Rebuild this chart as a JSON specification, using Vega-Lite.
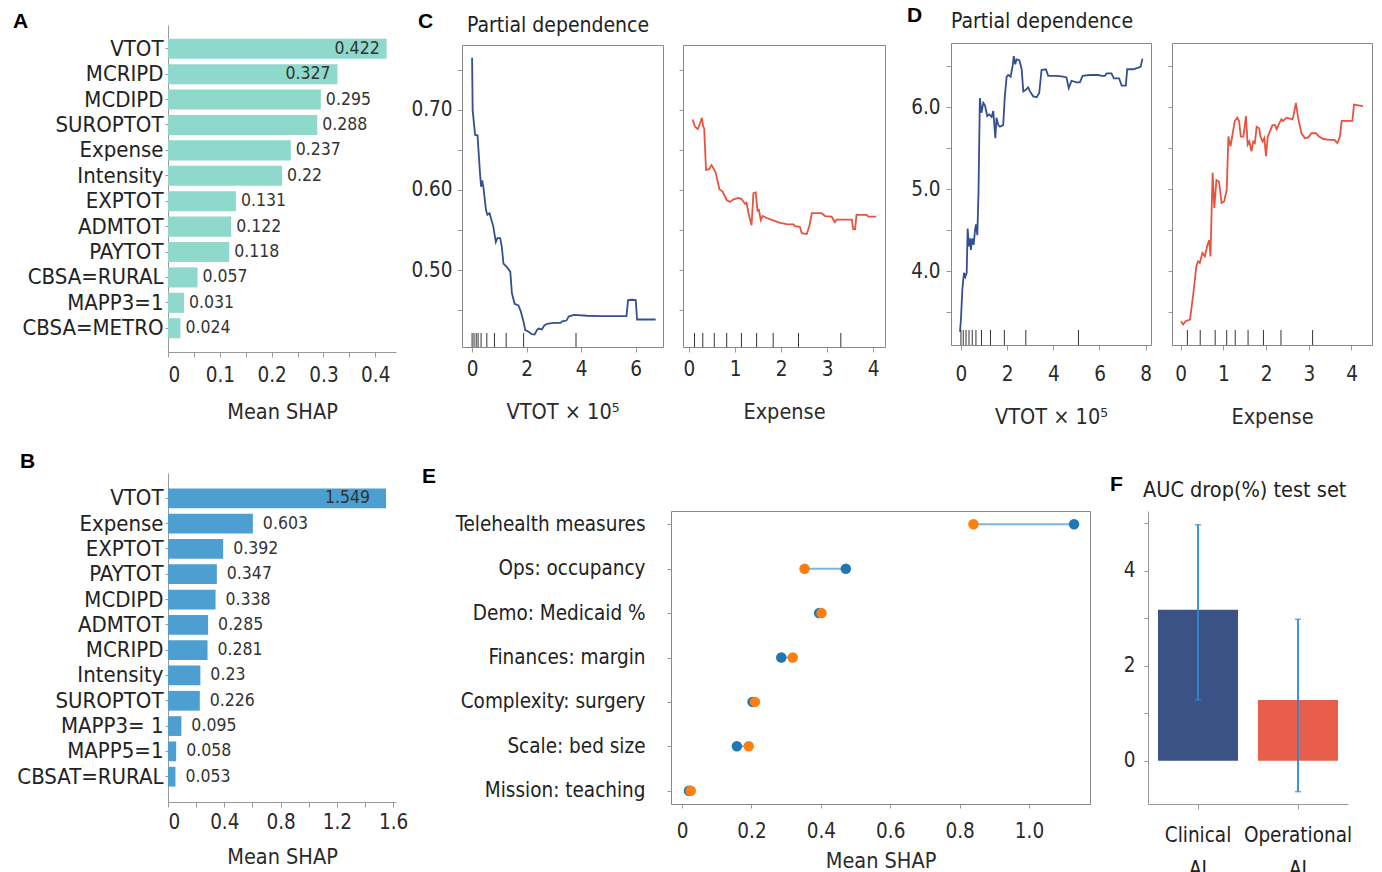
{
  "$schema": "https://vega.github.io/schema/vega-lite/v6.json",
  "autosize": {"type": "none"},
  "padding": {"left": 168, "top": 25, "right": 1214, "bottom": 847},
  "background": "white",
  "config": {
    "font": "DejaVu Sans Condensed, DejaVu Sans, sans-serif",
    "view": {"stroke": null},
    "axis": {"labelColor": "#2a2a2a", "titleColor": "#2a2a2a", "titleFontWeight": "normal", "domainColor": "#999", "tickColor": "#999", "grid": false, "labelFontSize": 20.5, "titleFontSize": 21.5, "labelLimit": 400},
    "title": {"color": "#222", "fontWeight": "normal", "anchor": "start", "frame": "group"}
  },
  "datasets": {
    "shapA": [
      {"feature": "VTOT", "shap": 0.422}, {"feature": "MCRIPD", "shap": 0.327}, {"feature": "MCDIPD", "shap": 0.295},
      {"feature": "SUROPTOT", "shap": 0.288}, {"feature": "Expense", "shap": 0.237}, {"feature": "Intensity", "shap": 0.22},
      {"feature": "EXPTOT", "shap": 0.131}, {"feature": "ADMTOT", "shap": 0.122}, {"feature": "PAYTOT", "shap": 0.118},
      {"feature": "CBSA=RURAL", "shap": 0.057}, {"feature": "MAPP3=1", "shap": 0.031}, {"feature": "CBSA=METRO", "shap": 0.024}
    ],
    "shapB": [
      {"feature": "VTOT", "shap": 1.549}, {"feature": "Expense", "shap": 0.603}, {"feature": "EXPTOT", "shap": 0.392},
      {"feature": "PAYTOT", "shap": 0.347}, {"feature": "MCDIPD", "shap": 0.338}, {"feature": "ADMTOT", "shap": 0.285},
      {"feature": "MCRIPD", "shap": 0.281}, {"feature": "Intensity", "shap": 0.23}, {"feature": "SUROPTOT", "shap": 0.226},
      {"feature": "MAPP3= 1", "shap": 0.095}, {"feature": "MAPP5=1", "shap": 0.058}, {"feature": "CBSAT=RURAL", "shap": 0.053}
    ],
    "pdC1": [
      {"x":0,"y":0.765},{"x":0.02,"y":0.70},{"x":0.11,"y":0.669},{"x":0.20,"y":0.668},{"x":0.29,"y":0.621},{"x":0.33,"y":0.604},{"x":0.37,"y":0.612},{"x":0.42,"y":0.602},{"x":0.51,"y":0.575},{"x":0.56,"y":0.569},{"x":0.64,"y":0.571},{"x":0.69,"y":0.565},{"x":0.78,"y":0.554},{"x":0.87,"y":0.535},{"x":0.93,"y":0.540},{"x":1.03,"y":0.540},{"x":1.09,"y":0.529},{"x":1.15,"y":0.508},{"x":1.27,"y":0.504},{"x":1.40,"y":0.498},{"x":1.46,"y":0.471},{"x":1.56,"y":0.458},{"x":1.70,"y":0.456},{"x":1.79,"y":0.448},{"x":1.89,"y":0.435},{"x":1.95,"y":0.425},{"x":2.07,"y":0.423},{"x":2.19,"y":0.420},{"x":2.29,"y":0.4196},{"x":2.38,"y":0.425},{"x":2.44,"y":0.427},{"x":2.56,"y":0.426},{"x":2.65,"y":0.431},{"x":2.75,"y":0.433},{"x":2.99,"y":0.434},{"x":3.24,"y":0.434},{"x":3.30,"y":0.436},{"x":3.46,"y":0.437},{"x":3.54,"y":0.442},{"x":3.73,"y":0.444},{"x":4.22,"y":0.443},{"x":4.71,"y":0.4425},{"x":5.20,"y":0.4425},{"x":5.66,"y":0.4425},{"x":5.72,"y":0.4625},{"x":5.87,"y":0.463},{"x":6.00,"y":0.4625},{"x":6.05,"y":0.4383},{"x":6.42,"y":0.4383},{"x":6.73,"y":0.4383}
    ],
    "pdC2": [
      {"x":0.08,"y":0.688},{"x":0.13,"y":0.679},{"x":0.19,"y":0.676},{"x":0.24,"y":0.683},{"x":0.28,"y":0.690},{"x":0.31,"y":0.679},{"x":0.33,"y":0.677},{"x":0.37,"y":0.625},{"x":0.44,"y":0.626},{"x":0.49,"y":0.631},{"x":0.57,"y":0.623},{"x":0.60,"y":0.617},{"x":0.66,"y":0.601},{"x":0.73,"y":0.598},{"x":0.82,"y":0.5875},{"x":0.89,"y":0.585},{"x":0.96,"y":0.588},{"x":1.07,"y":0.590},{"x":1.14,"y":0.589},{"x":1.22,"y":0.5825},{"x":1.25,"y":0.584},{"x":1.31,"y":0.567},{"x":1.36,"y":0.556},{"x":1.40,"y":0.596},{"x":1.45,"y":0.597},{"x":1.49,"y":0.574},{"x":1.52,"y":0.575},{"x":1.56,"y":0.5625},{"x":1.60,"y":0.5675},{"x":1.69,"y":0.565},{"x":1.83,"y":0.562},{"x":1.98,"y":0.559},{"x":2.12,"y":0.5575},{"x":2.27,"y":0.557},{"x":2.30,"y":0.555},{"x":2.41,"y":0.554},{"x":2.45,"y":0.546},{"x":2.56,"y":0.545},{"x":2.62,"y":0.556},{"x":2.67,"y":0.571},{"x":2.88,"y":0.571},{"x":2.96,"y":0.5675},{"x":3.10,"y":0.5667},{"x":3.17,"y":0.560},{"x":3.21,"y":0.563},{"x":3.54,"y":0.563},{"x":3.57,"y":0.551},{"x":3.61,"y":0.551},{"x":3.64,"y":0.569},{"x":3.86,"y":0.569},{"x":3.90,"y":0.5667},{"x":4.07,"y":0.5667}
    ],
    "pdD1": [
      {"x":-0.04,"y":3.26},{"x":0,"y":3.41},{"x":0.06,"y":3.77},{"x":0.13,"y":3.98},{"x":0.19,"y":3.93},{"x":0.25,"y":3.98},{"x":0.29,"y":4.52},{"x":0.35,"y":4.30},{"x":0.39,"y":4.40},{"x":0.43,"y":4.26},{"x":0.49,"y":4.40},{"x":0.55,"y":4.32},{"x":0.61,"y":4.50},{"x":0.65,"y":4.57},{"x":0.71,"y":4.44},{"x":0.76,"y":4.95},{"x":0.82,"y":6.11},{"x":0.89,"y":5.93},{"x":0.97,"y":6.05},{"x":1.04,"y":6.02},{"x":1.14,"y":5.89},{"x":1.23,"y":5.91},{"x":1.33,"y":5.88},{"x":1.40,"y":5.95},{"x":1.49,"y":5.62},{"x":1.54,"y":5.87},{"x":1.62,"y":5.78},{"x":1.69,"y":5.76},{"x":1.83,"y":5.78},{"x":1.90,"y":6.13},{"x":1.98,"y":6.37},{"x":2.05,"y":6.39},{"x":2.15,"y":6.37},{"x":2.24,"y":6.50},{"x":2.29,"y":6.62},{"x":2.35,"y":6.52},{"x":2.41,"y":6.58},{"x":2.53,"y":6.57},{"x":2.63,"y":6.46},{"x":2.70,"y":6.19},{"x":2.81,"y":6.21},{"x":2.91,"y":6.24},{"x":2.99,"y":6.19},{"x":3.13,"y":6.13},{"x":3.28,"y":6.12},{"x":3.39,"y":6.17},{"x":3.49,"y":6.45},{"x":3.68,"y":6.46},{"x":3.78,"y":6.38},{"x":4.14,"y":6.38},{"x":4.43,"y":6.37},{"x":4.57,"y":6.36},{"x":4.67,"y":6.23},{"x":4.79,"y":6.32},{"x":5.01,"y":6.30},{"x":5.15,"y":6.30},{"x":5.27,"y":6.38},{"x":5.58,"y":6.39},{"x":5.95,"y":6.39},{"x":6.09,"y":6.38},{"x":6.23,"y":6.38},{"x":6.31,"y":6.41},{"x":6.52,"y":6.41},{"x":6.62,"y":6.35},{"x":6.85,"y":6.35},{"x":6.96,"y":6.26},{"x":7.14,"y":6.26},{"x":7.20,"y":6.46},{"x":7.46,"y":6.46},{"x":7.68,"y":6.48},{"x":7.78,"y":6.49},{"x":7.86,"y":6.59}
    ],
    "pdD2": [
      {"x":0.01,"y":3.39},{"x":0.06,"y":3.35},{"x":0.12,"y":3.39},{"x":0.22,"y":3.41},{"x":0.30,"y":3.73},{"x":0.37,"y":4.06},{"x":0.41,"y":4.12},{"x":0.45,"y":4.10},{"x":0.51,"y":4.22},{"x":0.57,"y":4.18},{"x":0.62,"y":4.30},{"x":0.67,"y":4.38},{"x":0.70,"y":4.18},{"x":0.75,"y":5.20},{"x":0.79,"y":4.77},{"x":0.84,"y":5.11},{"x":0.90,"y":5.09},{"x":0.96,"y":4.83},{"x":1.02,"y":4.85},{"x":1.08,"y":4.99},{"x":1.12,"y":5.64},{"x":1.17,"y":5.52},{"x":1.22,"y":5.68},{"x":1.27,"y":5.83},{"x":1.33,"y":5.87},{"x":1.37,"y":5.83},{"x":1.41,"y":5.64},{"x":1.47,"y":5.64},{"x":1.53,"y":5.89},{"x":1.57,"y":5.54},{"x":1.61,"y":5.58},{"x":1.66,"y":5.46},{"x":1.70,"y":5.58},{"x":1.74,"y":5.56},{"x":1.78,"y":5.76},{"x":1.84,"y":5.74},{"x":1.87,"y":5.64},{"x":1.92,"y":5.58},{"x":1.96,"y":5.62},{"x":2.00,"y":5.40},{"x":2.04,"y":5.64},{"x":2.09,"y":5.70},{"x":2.15,"y":5.78},{"x":2.21,"y":5.78},{"x":2.25,"y":5.73},{"x":2.31,"y":5.80},{"x":2.36,"y":5.85},{"x":2.40,"y":5.83},{"x":2.48,"y":5.87},{"x":2.62,"y":5.85},{"x":2.65,"y":5.91},{"x":2.70,"y":6.05},{"x":2.75,"y":5.87},{"x":2.83,"y":5.68},{"x":2.91,"y":5.62},{"x":2.99,"y":5.63},{"x":3.06,"y":5.68},{"x":3.17,"y":5.68},{"x":3.24,"y":5.64},{"x":3.34,"y":5.61},{"x":3.49,"y":5.60},{"x":3.60,"y":5.60},{"x":3.67,"y":5.56},{"x":3.73,"y":5.64},{"x":3.77,"y":5.83},{"x":3.88,"y":5.83},{"x":4.02,"y":5.83},{"x":4.06,"y":6.03},{"x":4.16,"y":6.02},{"x":4.27,"y":6.01}
    ],
    "rugC1": [{"x":0},{"x":0.07},{"x":0.15},{"x":0.22},{"x":0.33},{"x":0.54},{"x":0.82},{"x":1.25},{"x":1.89},{"x":3.81}],
    "rugC2": [{"x":0.12},{"x":0.30},{"x":0.55},{"x":0.82},{"x":1.14},{"x":1.47},{"x":1.83},{"x":2.38},{"x":3.30}],
    "rugD1": [{"x":0},{"x":0.10},{"x":0.22},{"x":0.35},{"x":0.49},{"x":0.65},{"x":0.89},{"x":1.28},{"x":1.88},{"x":2.81},{"x":5.09}],
    "rugD2": [{"x":0.16},{"x":0.46},{"x":0.81},{"x":1.08},{"x":1.28},{"x":1.58},{"x":1.94},{"x":2.35},{"x":3.09}],
    "shapE": [
      {"feature": "Telehealth measures", "set1": 1.13, "set2": 0.84},
      {"feature": "Ops: occupancy", "set1": 0.472, "set2": 0.353},
      {"feature": "Demo: Medicaid %", "set1": 0.395, "set2": 0.402},
      {"feature": "Finances: margin", "set1": 0.286, "set2": 0.319},
      {"feature": "Complexity: surgery", "set1": 0.203, "set2": 0.21},
      {"feature": "Scale: bed size", "set1": 0.158, "set2": 0.192},
      {"feature": "Mission: teaching", "set1": 0.02, "set2": 0.025}
    ],
    "aucF": [
      {"model": "Clinical AI", "drop": 3.18, "lower": 1.28, "upper": 4.97},
      {"model": "Operational AI", "drop": 1.28, "lower": -0.65, "upper": 2.98}
    ]
  },
  "vconcat": [
    {
      "hconcat": [
        {
          "width": 228, "height": 327,
          "title": {"text": "A", "dx": -155, "dy": 24, "offset": 0, "baseline": "alphabetic", "fontSize": 21, "fontWeight": "bold", "font": "Liberation Sans, Arial, sans-serif", "color": "#000"},
          "data": {"name": "shapA"},
          "encoding": {
            "y": {"field": "feature", "type": "nominal", "sort": null, "scale": {"paddingInner": 0.21, "paddingOuter": 0.54}, "axis": {"title": null, "labelFontSize": 22, "labelColor": "#222", "tickSize": 3, "labelPadding": 2}},
            "x": {"field": "shap", "type": "quantitative", "scale": {"domain": [0, 0.44], "nice": false}, "axis": {"title": "Mean SHAP", "values": [0, 0.05, 0.1, 0.15, 0.2, 0.25, 0.3, 0.35, 0.4], "labelExpr": "round(datum.value*20) % 2 == 0 ? format(datum.value, '~g') : ''", "tickSize": 5, "labelPadding": 8, "titlePadding": 16}}
          },
          "layer": [
            {"mark": {"type": "bar", "color": "#8ed8cc"}},
            {"transform": [{"filter": "datum.shap >= 0.3"}], "mark": {"type": "text", "align": "right", "dx": -7, "fontSize": 17.5, "color": "#333"}, "encoding": {"text": {"field": "shap", "type": "quantitative", "format": ".3~f"}}},
            {"transform": [{"filter": "datum.shap < 0.3"}], "mark": {"type": "text", "align": "left", "dx": 5, "fontSize": 17.5, "color": "#333"}, "encoding": {"text": {"field": "shap", "type": "quantitative", "format": ".3~f"}}}
          ]
        },
        {"width": 66, "height": 1, "data": {"values": []}, "mark": "point", "encoding": {},
         "title": {"text": "C", "dx": 22, "dy": 24, "offset": 0, "baseline": "alphabetic", "fontSize": 21, "fontWeight": "bold", "font": "Liberation Sans, Arial, sans-serif", "color": "#000"}},
        {
          "width": 201, "height": 322,
          "title": {"text": "Partial dependence", "dx": 5, "dy": 27.5, "offset": 0, "baseline": "alphabetic", "fontSize": 21},
          "resolve": {"axis": {"x": "independent", "y": "independent"}},
          "layer": [
            {"data": {"name": "pdC1"}, "mark": {"type": "line", "color": "#34508f", "strokeWidth": 1.8},
             "encoding": {
               "x": {"field": "x", "type": "quantitative", "scale": {"domain": [-0.37, 7.0], "nice": false, "zero": false}, "axis": {"title": "VTOT × 10⁵", "values": [0, 2, 4, 6], "domainColor": "#888", "tickSize": 5, "labelPadding": 7, "titlePadding": 22}},
               "y": {"field": "y", "type": "quantitative", "scale": {"domain": [0.404, 0.781], "range": [322, 20], "nice": false, "zero": false}, "axis": {"title": null, "values": [0.45, 0.5, 0.55, 0.6, 0.65, 0.7, 0.75], "labelExpr": "round(datum.value*100) % 10 == 0 ? format(datum.value, '.2f') : ''", "domainColor": "#888", "tickSize": 5, "labelPadding": 5}}
             }},
            {"data": {"name": "pdC1"}, "mark": {"type": "line", "strokeOpacity": 0},
             "encoding": {
               "x": {"field": "x", "type": "quantitative", "axis": {"orient": "top", "offset": -20, "title": null, "labels": false, "ticks": false, "domainColor": "#888"}},
               "y": {"field": "y", "type": "quantitative", "axis": {"orient": "right", "title": null, "labels": false, "ticks": false, "domainColor": "#888"}}
             }},
            {"data": {"name": "rugC1"}, "mark": {"type": "rule", "color": "#333", "strokeWidth": 1},
             "encoding": {"x": {"field": "x", "type": "quantitative", "axis": null}, "y": {"datum": 0.404, "axis": null}, "y2": {"datum": 0.4215}}}
          ]
        },
        {"width": 20, "height": 1, "data": {"values": []}, "mark": "point", "encoding": {}},
        {
          "width": 202, "height": 322,
          "resolve": {"axis": {"x": "independent", "y": "independent"}},
          "layer": [
            {"data": {"name": "pdC2"}, "mark": {"type": "line", "color": "#e8533f", "strokeWidth": 1.8},
             "encoding": {
               "x": {"field": "x", "type": "quantitative", "scale": {"domain": [-0.13, 4.26], "nice": false, "zero": false}, "axis": {"title": "Expense", "values": [0, 1, 2, 3, 4], "domainColor": "#888", "tickSize": 5, "labelPadding": 7, "titlePadding": 22}},
               "y": {"field": "y", "type": "quantitative", "scale": {"domain": [0.404, 0.781], "range": [322, 20], "nice": false, "zero": false}, "axis": {"title": null, "values": [0.45, 0.5, 0.55, 0.6, 0.65, 0.7, 0.75], "labels": false, "domainColor": "#888", "tickSize": 4}}
             }},
            {"data": {"name": "pdC2"}, "mark": {"type": "line", "strokeOpacity": 0},
             "encoding": {
               "x": {"field": "x", "type": "quantitative", "axis": {"orient": "top", "offset": -20, "title": null, "labels": false, "ticks": false, "domainColor": "#888"}},
               "y": {"field": "y", "type": "quantitative", "axis": {"orient": "right", "title": null, "labels": false, "ticks": false, "domainColor": "#888"}}
             }},
            {"data": {"name": "rugC2"}, "mark": {"type": "rule", "color": "#333", "strokeWidth": 1},
             "encoding": {"x": {"field": "x", "type": "quantitative", "axis": null}, "y": {"datum": 0.404, "axis": null}, "y2": {"datum": 0.4215}}}
          ]
        },
        {"width": 66, "height": 1, "data": {"values": []}, "mark": "point", "encoding": {},
         "title": {"text": "D", "dx": 22, "dy": 18, "offset": 0, "baseline": "alphabetic", "fontSize": 21, "fontWeight": "bold", "font": "Liberation Sans, Arial, sans-serif", "color": "#000"}},
        {
          "width": 200, "height": 320,
          "title": {"text": "Partial dependence", "dx": 0, "dy": 24, "offset": 0, "baseline": "alphabetic", "fontSize": 21},
          "resolve": {"axis": {"x": "independent", "y": "independent"}},
          "layer": [
            {"data": {"name": "pdD1"}, "mark": {"type": "line", "color": "#34508f", "strokeWidth": 1.8},
             "encoding": {
               "x": {"field": "x", "type": "quantitative", "scale": {"domain": [-0.43, 8.23], "nice": false, "zero": false}, "axis": {"title": "VTOT × 10⁵", "values": [0, 2, 4, 6, 8], "domainColor": "#888", "tickSize": 5, "labelPadding": 14, "titlePadding": 22}},
               "y": {"field": "y", "type": "quantitative", "scale": {"domain": [3.10, 6.78], "range": [320, 18], "nice": false, "zero": false}, "axis": {"title": null, "values": [3.5, 4, 4.5, 5, 5.5, 6, 6.5], "labelExpr": "datum.value % 1 == 0 ? format(datum.value, '.1f') : ''", "domainColor": "#888", "tickSize": 5, "labelPadding": 6}}
             }},
            {"data": {"name": "pdD1"}, "mark": {"type": "line", "strokeOpacity": 0},
             "encoding": {
               "x": {"field": "x", "type": "quantitative", "axis": {"orient": "top", "offset": -18, "title": null, "labels": false, "ticks": false, "domainColor": "#888"}},
               "y": {"field": "y", "type": "quantitative", "axis": {"orient": "right", "title": null, "labels": false, "ticks": false, "domainColor": "#888"}}
             }},
            {"data": {"name": "rugD1"}, "mark": {"type": "rule", "color": "#333", "strokeWidth": 1},
             "encoding": {"x": {"field": "x", "type": "quantitative", "axis": null}, "y": {"datum": 3.10, "axis": null}, "y2": {"datum": 3.283}}}
          ]
        },
        {"width": 21, "height": 1, "data": {"values": []}, "mark": "point", "encoding": {}},
        {
          "width": 200, "height": 320,
          "resolve": {"axis": {"x": "independent", "y": "independent"}},
          "layer": [
            {"data": {"name": "pdD2"}, "mark": {"type": "line", "color": "#e8533f", "strokeWidth": 1.8},
             "encoding": {
               "x": {"field": "x", "type": "quantitative", "scale": {"domain": [-0.2, 4.48], "nice": false, "zero": false}, "axis": {"title": "Expense", "values": [0, 1, 2, 3, 4], "domainColor": "#888", "tickSize": 5, "labelPadding": 14, "titlePadding": 22}},
               "y": {"field": "y", "type": "quantitative", "scale": {"domain": [3.10, 6.78], "range": [320, 18], "nice": false, "zero": false}, "axis": {"title": null, "values": [3.5, 4, 4.5, 5, 5.5, 6, 6.5], "labels": false, "domainColor": "#888", "tickSize": 4}}
             }},
            {"data": {"name": "pdD2"}, "mark": {"type": "line", "strokeOpacity": 0},
             "encoding": {
               "x": {"field": "x", "type": "quantitative", "axis": {"orient": "top", "offset": -18, "title": null, "labels": false, "ticks": false, "domainColor": "#888"}},
               "y": {"field": "y", "type": "quantitative", "axis": {"orient": "right", "title": null, "labels": false, "ticks": false, "domainColor": "#888"}}
             }},
            {"data": {"name": "rugD2"}, "mark": {"type": "rule", "color": "#333", "strokeWidth": 1},
             "encoding": {"x": {"field": "x", "type": "quantitative", "axis": null}, "y": {"datum": 3.10, "axis": null}, "y2": {"datum": 3.283}}}
          ]
        }
      ],
      "spacing": 0, "bounds": "flush"
    },
    {
      "hconcat": [
        {
          "width": 228, "height": 329,
          "title": {"text": "B", "dx": -148, "dy": 16, "offset": 0, "baseline": "alphabetic", "fontSize": 21, "fontWeight": "bold", "font": "Liberation Sans, Arial, sans-serif", "color": "#000"},
          "data": {"name": "shapB"},
          "encoding": {
            "y": {"field": "feature", "type": "nominal", "sort": null, "scale": {"paddingInner": 0.22, "paddingOuter": 0.61}, "axis": {"title": null, "labelFontSize": 22, "labelColor": "#222", "tickSize": 3, "labelPadding": 2}},
            "x": {"field": "shap", "type": "quantitative", "scale": {"domain": [0, 1.62], "nice": false}, "axis": {"title": "Mean SHAP", "values": [0, 0.2, 0.4, 0.6, 0.8, 1.0, 1.2, 1.4, 1.6], "labelExpr": "round(datum.value*5) % 2 == 0 ? format(datum.value, '~g') : ''", "tickSize": 5, "labelPadding": 5, "titlePadding": 14}}
          },
          "layer": [
            {"mark": {"type": "bar", "color": "#4c9fd0"}},
            {"transform": [{"filter": "datum.shap >= 1"}], "mark": {"type": "text", "align": "right", "dx": -16, "fontSize": 17.5, "color": "#333"}, "encoding": {"text": {"field": "shap", "type": "quantitative", "format": ".3~f"}}},
            {"transform": [{"filter": "datum.shap < 1"}], "mark": {"type": "text", "align": "left", "dx": 10, "fontSize": 17.5, "color": "#333"}, "encoding": {"text": {"field": "shap", "type": "quantitative", "format": ".3~f"}}}
          ]
        },
        {"width": 275, "height": 1, "data": {"values": []}, "mark": "point", "encoding": {},
         "title": {"text": "E", "dx": 26, "dy": 31, "offset": 0, "baseline": "alphabetic", "fontSize": 21, "fontWeight": "bold", "font": "Liberation Sans, Arial, sans-serif", "color": "#000"}},
        {
          "width": 419, "height": 331,
          "data": {"name": "shapE"},
          "resolve": {"axis": {"x": "independent", "y": "independent"}},
          "layer": [
            {"mark": {"type": "rule", "color": "#7cb4e2", "strokeWidth": 2},
             "encoding": {
               "y": {"field": "feature", "type": "nominal", "sort": null, "scale": {"type": "point", "padding": 0.3, "range": [38, 331]}, "axis": {"title": null, "labelFontSize": 20.5, "labelColor": "#222", "tickSize": 4, "labelPadding": 22, "domainColor": "#888"}},
               "x": {"field": "set1", "type": "quantitative", "scale": {"domain": [-0.032, 1.176], "nice": false, "zero": false}, "axis": {"title": "Mean SHAP", "values": [0, 0.2, 0.4, 0.6, 0.8, 1.0], "labelExpr": "datum.value == 0 ? '0' : format(datum.value, '.1f')", "domainColor": "#888", "tickSize": 4, "labelPadding": 13, "titlePadding": 9}},
               "x2": {"field": "set2"}
             }},
            {"mark": {"type": "point", "opacity": 0},
             "encoding": {
               "y": {"field": "feature", "type": "nominal", "sort": null, "axis": {"orient": "right", "title": null, "labels": false, "ticks": false, "domainColor": "#888"}},
               "x": {"field": "set1", "type": "quantitative", "axis": {"orient": "top", "offset": -38, "title": null, "labels": false, "ticks": false, "domainColor": "#888"}}
             }},
            {"mark": {"type": "point", "filled": true, "size": 110, "opacity": 1, "color": "#1f77b4"},
             "encoding": {"y": {"field": "feature", "type": "nominal", "sort": null, "axis": null}, "x": {"field": "set1", "type": "quantitative", "axis": null}}},
            {"mark": {"type": "point", "filled": true, "size": 110, "opacity": 1, "color": "#ff7f0e"},
             "encoding": {"y": {"field": "feature", "type": "nominal", "sort": null, "axis": null}, "x": {"field": "set2", "type": "quantitative", "axis": null}}}
          ]
        },
        {"width": 58, "height": 1, "data": {"values": []}, "mark": "point", "encoding": {},
         "title": {"text": "F", "dx": 20, "dy": 39, "offset": 0, "baseline": "alphabetic", "fontSize": 21, "fontWeight": "bold", "font": "Liberation Sans, Arial, sans-serif", "color": "#000"}},
        {
          "width": 200, "height": 331,
          "title": {"text": "AUC drop(%) test set", "dx": -5, "dy": 45, "offset": 0, "baseline": "alphabetic", "fontSize": 21.5},
          "data": {"name": "aucF"},
          "encoding": {
            "x": {"field": "model", "type": "nominal", "sort": null, "scale": {"paddingInner": 0.2, "paddingOuter": 0.1}, "axis": {"title": null, "labelAngle": 0, "labelExpr": "split(datum.label, ' ')", "labelLineHeight": 34, "tickSize": 5, "labelPadding": 16, "labelColor": "#222"}}
          },
          "layer": [
            {"mark": {"type": "bar"},
             "encoding": {"y": {"field": "drop", "type": "quantitative", "scale": {"domain": [-0.91, 5.26], "range": [331, 38], "nice": false, "zero": false}, "axis": {"title": null, "values": [0, 1, 2, 3, 4, 5], "labelExpr": "datum.value % 2 == 0 ? format(datum.value, 'd') : ''", "tickSize": 4, "labelPadding": 9}},
                          "y2": {"datum": 0},
                          "color": {"field": "model", "type": "nominal", "scale": {"domain": ["Clinical AI", "Operational AI"], "range": ["#3a5285", "#e85e4a"]}, "legend": null}}},
            {"mark": {"type": "rule", "color": "#2b8ad4", "strokeWidth": 1.8},
             "encoding": {"y": {"field": "lower", "type": "quantitative"}, "y2": {"field": "upper"}}},
            {"mark": {"type": "tick", "color": "#2b8ad4", "size": 6, "thickness": 1.5},
             "encoding": {"y": {"field": "lower", "type": "quantitative"}}},
            {"mark": {"type": "tick", "color": "#2b8ad4", "size": 6, "thickness": 1.5},
             "encoding": {"y": {"field": "upper", "type": "quantitative"}}}
          ]
        }
      ],
      "spacing": 0, "bounds": "flush"
    }
  ],
  "spacing": 23
}
